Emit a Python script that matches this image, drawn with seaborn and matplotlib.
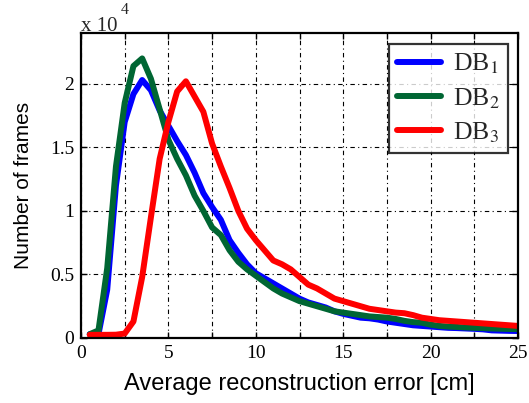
import numpy as np
import pandas as pd
import matplotlib
matplotlib.use("Agg")
import matplotlib.pyplot as plt
import seaborn as sns
from matplotlib.ticker import MultipleLocator

error_cm = [0.5, 1.0, 1.5, 2.0, 2.5, 3.0, 3.5, 4.0, 4.5, 5.0,
            5.5, 6.0, 6.5, 7.0, 7.5, 8.0, 8.5, 9.0, 9.5, 10.0,
            10.5, 11.0, 11.5, 12.0, 12.5, 13.0, 13.5, 14.0, 14.5, 15.0,
            15.5, 16.0, 16.5, 17.0, 17.5, 18.0, 18.5, 19.0, 19.5, 20.0,
            20.5, 21.0, 21.5, 22.0, 22.5, 23.0, 23.5, 24.0, 24.5, 25.0]

db1_frames = [300, 300, 3800, 12000, 17000, 19200, 20300, 19500, 17900, 16700,
              15500, 14400, 13000, 11400, 10300, 9300, 7700, 6700, 5800, 5100,
              4700, 4300, 3900, 3500, 3100, 2800, 2600, 2400, 2100, 1900,
              1750, 1600, 1550, 1450, 1300, 1200, 1100, 1000, 950, 900,
              850, 800, 780, 750, 720, 680, 600, 580, 560, 550]

db2_frames = [300, 600, 5500, 13500, 18500, 21400, 22000, 20400, 18000, 15600,
              14100, 12800, 11200, 10000, 8700, 8100, 6900, 6000, 5400, 4900,
              4400, 3900, 3500, 3200, 2900, 2700, 2500, 2300, 2100, 2000,
              1900, 1800, 1700, 1650, 1600, 1500, 1350, 1250, 1200, 1050,
              950, 900, 870, 830, 800, 780, 750, 730, 710, 700]

db3_frames = [250, 250, 250, 260, 350, 1300, 4800, 9500, 14100, 17000,
              19400, 20200, 19000, 17800, 15300, 13500, 11800, 10000, 8600, 7700,
              6900, 6100, 5800, 5400, 4800, 4200, 3900, 3500, 3100, 2900,
              2700, 2500, 2300, 2200, 2100, 2000, 1950, 1800, 1600, 1500,
              1400, 1350, 1300, 1250, 1200, 1150, 1100, 1050, 1000, 950]

series_names = ["DB$_1$", "DB$_2$", "DB$_3$"]
series_colors = ["#0000FF", "#006633", "#FF0000"]
x_ticks = [0, 5, 10, 15, 20, 25]
y_ticks = [0, 0.5, 1, 1.5, 2]
y_tick_labels = ["0", "0.5", "1", "1.5", "2"]

frames = []
for name, vals in zip(series_names, [db1_frames, db2_frames, db3_frames]):
    frames.append(pd.DataFrame({"err": error_cm, "val": np.array(vals) / 1e4, "db": name}))
df = pd.concat(frames, ignore_index=True)

sns.set_theme(style="white")
fig = plt.figure(figsize=(5.29, 4.03), dpi=100)
ax = fig.add_axes([81 / 529, 1 - 338 / 403, (518 - 81) / 529, (338 - 33) / 403])

sns.lineplot(data=df, x="err", y="val", hue="db", palette=series_colors,
             linewidth=4.3, ax=ax, legend=True)

ax.set_xlim(0, 25)
ax.set_ylim(0, 2.4)
ax.xaxis.set_major_locator(MultipleLocator(5))
ax.xaxis.set_minor_locator(MultipleLocator(2.5))
ax.yaxis.set_major_locator(MultipleLocator(0.5))
ax.set_xticks(x_ticks)
ax.set_yticks(y_ticks)
ax.set_yticklabels(y_tick_labels)
ax.grid(True, which="both", color="black", linestyle=(0, (4, 3, 1, 3)), linewidth=0.8)
ax.grid(False, which="minor", axis="y")
ax.tick_params(which="both", direction="in", length=4, width=1, colors="black",
               top=True, right=True, bottom=True, left=True)
ax.tick_params(which="major", labelsize=14, pad=5)
for lab in ax.get_xticklabels() + ax.get_yticklabels():
    lab.set_family("Liberation Serif")
for sp in ax.spines.values():
    sp.set_color("black")
    sp.set_linewidth(1.6)

ax.set_xlabel("Average reconstruction error [cm]", family="Liberation Sans", fontsize=17,
              labelpad=8, color="black")
ax.set_ylabel("Number of frames", family="Liberation Sans", fontsize=15, labelpad=12, color="black")

ax.annotate("x 10", xy=(0, 1), xycoords="axes fraction", xytext=(0, 1.4),
            textcoords="offset points", family="Liberation Serif", fontsize=15,
            ha="left", va="baseline")
ax.annotate("4", xy=(0, 1), xycoords="axes fraction", xytext=(28.5, 13.8),
            textcoords="offset points", family="Liberation Serif", fontsize=11.5,
            ha="left", va="baseline")

leg = ax.legend(loc="upper right", bbox_to_anchor=(0.977, 0.964), borderaxespad=0,
                frameon=True, fancybox=False, edgecolor="black",
                prop={"family": "Liberation Serif", "size": 18.5},
                handlelength=1.7, handletextpad=0.5, borderpad=0.3, labelspacing=0.38)
leg.get_frame().set_linewidth(1.6)
for line in leg.get_lines():
    line.set_linewidth(4.3)
for t in leg.get_texts():
    t.set_math_fontfamily("stix")

fig.savefig("out.png", dpi=100, facecolor="white")
